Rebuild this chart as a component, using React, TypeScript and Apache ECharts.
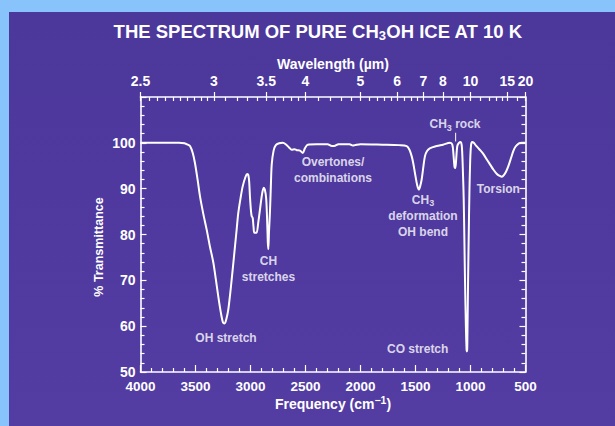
import { useEffect, useRef } from "react";
import * as echarts from "echarts";

// ---- Data ----
const frequency = [
  4000, 3800, 3650, 3600, 3570, 3550, 3525, 3505, 3480, 3459, 3430, 3398, 3370, 3338, 3315, 3293, 3270, 3250, 3235, 3220,
  3202, 3185, 3171, 3155, 3141, 3125, 3111, 3090, 3071, 3045, 3030, 3020, 3012, 3005, 2995, 2989, 2980, 2972, 2965, 2945,
  2930, 2914, 2895, 2880, 2870, 2858, 2850, 2843, 2838, 2832, 2823, 2815, 2807, 2790, 2770, 2740, 2707, 2680, 2650, 2625,
  2600, 2580, 2550, 2525, 2505, 2480, 2400, 2300, 2260, 2240, 2200, 2100, 2070, 2050, 2000, 1800, 1650, 1580, 1555, 1535,
  1520, 1505, 1485, 1470, 1458, 1444, 1430, 1414, 1395, 1370, 1307, 1250, 1186, 1165, 1155, 1145, 1138, 1130, 1120, 1105,
  1089, 1078, 1068, 1062, 1055, 1050, 1042, 1036, 1033, 1030, 1027, 1022, 1016, 1010, 1003, 995, 985, 970, 950, 920,
  884, 850, 820, 793, 760, 735, 715, 695, 675, 656, 630, 611, 590, 560, 530, 500,
];
const transmittance = [
  100, 100, 100, 99.9, 99.6, 99.3, 97.8, 95.6, 91.8, 88.3, 84.6, 81, 77.5, 73.9, 70.2, 66.5, 63, 60.8, 60.6, 61.5,
  63.6, 67, 70.2, 74, 77.4, 81.3, 84.7, 88, 90.5, 92.6, 93.2, 93, 91.5, 88.3, 85, 84, 83.6, 81.5, 80.4, 80.4,
  82.5, 85.4, 88.8, 90.2, 89.8, 88, 84, 78.5, 76.8, 80.5, 85, 90.5, 95.3, 98.3, 99.5, 99.9, 100, 99.7, 99, 98.5,
  98.6, 98.4, 98.3, 97.8, 98.8, 99.6, 99.7, 99.7, 99.3, 99.3, 99.7, 99.7, 99.4, 99.5, 99.7, 99.6, 99.5, 99.3, 98.5, 97.1,
  95.5, 93.4, 90.8, 89.8, 90.5, 92, 94.5, 97.1, 98.2, 98.8, 99.3, 99.6, 100, 99.6, 97.5, 94.7, 94.5, 96.5, 99.3, 100,
  100.2, 99, 93, 88, 78, 70, 60, 55, 54.5, 55, 60, 70, 80, 89, 96, 99.5, 100.2, 100, 99.4, 98.6,
  97.6, 96.3, 95.2, 94.2, 93.2, 92.8, 92.6, 93, 93.8, 94.9, 96.8, 98.2, 99.2, 99.9, 100, 100,
];

// Wavelength axis (µm), shown on top
const wavelengthLabels = [2.5, 3, 3.5, 4, 5, 6, 7, 8, 10, 15, 20];
const wavelengthMinor = [
  2.55, 2.6, 2.65, 2.7, 2.75, 2.8, 2.85, 2.9, 2.95,
  3.1, 3.2, 3.3, 3.4, 3.6, 3.7, 3.8, 3.9,
  4.2, 4.4, 4.6, 4.8, 5.2, 5.4, 5.6, 5.8,
  6.25, 6.5, 6.75, 7.5, 8.5, 9, 9.5, 11, 12, 13, 14, 17.5,
];

// Annotations: text, frequency, transmittance
const annotationText = [
  "{n|Overtones/}\n{n|combinations}",
  "{n|CH}\n{n|stretches}",
  "{n|OH stretch}",
  "{n|CH}{s|3}\n{n|deformation}\n{n|OH bend}",
  "{n|CH}{s|3}{n| rock}",
  "{n|Torsion}",
  "{n|CO stretch}",
];
const annotationFreq = [2250, 2836, 3223, 1432, 1141, 747, 1480];
const annotationT = [94.1, 72.5, 57.4, 84.1, 104.1, 90, 55];

const pointerFreq = [1135, 1135];
const pointerT = [102.2, 100.3];

const FONT = "'Liberation Sans', Arial, Helvetica, sans-serif";
const WHITE = "#ffffff";

export default function App() {
  const ref = useRef<HTMLDivElement>(null);

  useEffect(() => {
    if (!ref.current) return;
    const chart = echarts.init(ref.current, null, { renderer: "svg" });

    const toCm = (w: number) => 10000 / w;
    const labelValues = wavelengthLabels.map(toCm);
    const minorValues = wavelengthMinor.map(toCm);
    const allTop = labelValues.concat(minorValues);

    const spectrum = frequency.map((f, i) => [f, transmittance[i]]);
    const annotations = annotationFreq.map((f, i) => ({ value: [f, annotationT[i]], text: annotationText[i] }));
    const pointer = pointerFreq.map((f, i) => [f, pointerT[i]]);

    const tickStyle = { color: WHITE, width: 1.2 };
    const axisLineStyle = { color: WHITE, width: 1.6 };
    const baseLabel = { color: WHITE, fontWeight: "bold", fontFamily: FONT };

    const richBase = {
      n: { fontSize: 12, fontWeight: "bold", color: WHITE, fontFamily: FONT, lineHeight: 16 },
      s: { fontSize: 9, fontWeight: "bold", color: WHITE, fontFamily: FONT, padding: [7, 0, 0, 0], lineHeight: 16 },
    };

    chart.setOption({
      animation: false,
      backgroundColor: "transparent",
      grid: { left: 140.5, right: 89.5, top: 97, bottom: 54, containLabel: false, outerBoundsMode: "none" },
      xAxis: [
        {
          type: "value", position: "bottom", min: 500, max: 4000, interval: 500, inverse: true,
          axisLine: { show: true, onZero: false, lineStyle: axisLineStyle },
          axisTick: { show: true, inside: true, length: 7, lineStyle: tickStyle },
          minorTick: { show: true, splitNumber: 5, length: 4, lineStyle: tickStyle },
          axisLabel: { ...baseLabel, fontSize: 13.5, margin: 7, formatter: (v: number) => String(v) },
          splitLine: { show: false },
        },
        {
          type: "value", position: "top", min: 500, max: 4000, inverse: true,
          axisLine: { show: true, onZero: false, lineStyle: axisLineStyle },
          axisTick: { show: true, inside: true, length: 4, lineStyle: tickStyle, customValues: allTop },
          axisLabel: {
            ...baseLabel, fontSize: 14, margin: 9, customValues: labelValues,
            formatter: (v: number) => String(Math.round((10000 / v) * 10) / 10),
          },
          splitLine: { show: false },
        },
        {
          type: "value", position: "top", min: 500, max: 4000, inverse: true,
          axisLine: { show: false },
          axisTick: { show: true, inside: false, length: 5, lineStyle: tickStyle, customValues: labelValues },
          axisLabel: { show: false },
          splitLine: { show: false },
        },
      ],
      yAxis: [
        {
          type: "value", position: "left", min: 50, max: 110, interval: 10,
          axisLine: { show: true, onZero: false, lineStyle: axisLineStyle },
          axisTick: { show: true, inside: true, length: 6, lineStyle: tickStyle },
          minorTick: { show: true, splitNumber: 5, length: 4, lineStyle: tickStyle },
          axisLabel: { ...baseLabel, fontSize: 14, margin: 5, formatter: (v: number) => (v <= 100 ? String(v) : "") },
          splitLine: { show: false },
        },
        {
          type: "value", position: "right", min: 50, max: 110, interval: 10,
          axisLine: { show: true, onZero: false, lineStyle: axisLineStyle },
          axisTick: { show: true, inside: true, length: 6, lineStyle: tickStyle },
          minorTick: { show: true, splitNumber: 5, length: 4, lineStyle: tickStyle },
          axisLabel: { show: false },
          splitLine: { show: false },
        },
      ],
      series: [
        {
          type: "line", xAxisIndex: 0, yAxisIndex: 0, data: spectrum, showSymbol: false, smooth: 0.3,
          lineStyle: { color: WHITE, width: 2 }, z: 3, silent: true,
        },
        {
          type: "line", xAxisIndex: 0, yAxisIndex: 0, data: pointer, showSymbol: false,
          lineStyle: { color: WHITE, width: 1 }, silent: true,
        },
        {
          type: "scatter", xAxisIndex: 0, yAxisIndex: 0, data: annotations, symbolSize: 0, silent: true,
          label: {
            show: true, position: "inside", align: "center", verticalAlign: "middle",
            formatter: (p: any) => p.data.text, rich: richBase, lineHeight: 16,
          },
        },
      ],
      graphic: [
        {
          type: "text", x: 318, y: 31,
          style: {
            text: "{a|THE SPECTRUM OF PURE CH}{b|3}{a|OH ICE AT 10 K}",
            align: "center", verticalAlign: "middle",
            rich: {
              a: { fontSize: 18.5, fontWeight: "bold", fill: WHITE, fontFamily: FONT, lineHeight: 22 },
              b: { fontSize: 13, fontWeight: "bold", fill: WHITE, fontFamily: FONT, padding: [9, 0, 0, 0], lineHeight: 22 },
            },
          },
        },
        {
          type: "text", x: 333, y: 64,
          style: { text: "Wavelength (µm)", align: "center", verticalAlign: "middle", fill: WHITE, fontSize: 14, fontWeight: "bold", fontFamily: FONT },
        },
        {
          type: "text", x: 333, y: 404,
          style: {
            text: "{a|Frequency (cm}{b|−1}{a|)}",
            align: "center", verticalAlign: "middle",
            rich: {
              a: { fontSize: 14, fontWeight: "bold", fill: WHITE, fontFamily: FONT, lineHeight: 18 },
              b: { fontSize: 10.5, fontWeight: "bold", fill: WHITE, fontFamily: FONT, padding: [0, 0, 8, 0], lineHeight: 18 },
            },
          },
        },
        {
          type: "text", x: 99, y: 247, rotation: Math.PI / 2,
          style: { text: "% Transmittance", align: "center", verticalAlign: "middle", fill: WHITE, fontSize: 12.5, fontWeight: "bold", fontFamily: FONT },
        },
      ],
    });

    return () => chart.dispose();
  }, []);

  return (
    <div style={{ position: "fixed", left: 0, top: 0, width: 615, height: 426, background: "#88c4fb", overflow: "hidden" }}>
      <div style={{ position: "absolute", left: 9, top: 12, right: 0, bottom: 0, background: "linear-gradient(180deg, #4c379b 0%, #533ca2 100%)" }} />
      <div ref={ref} style={{ position: "absolute", left: 0, top: 0, width: 615, height: 426 }} />
    </div>
  );
}
